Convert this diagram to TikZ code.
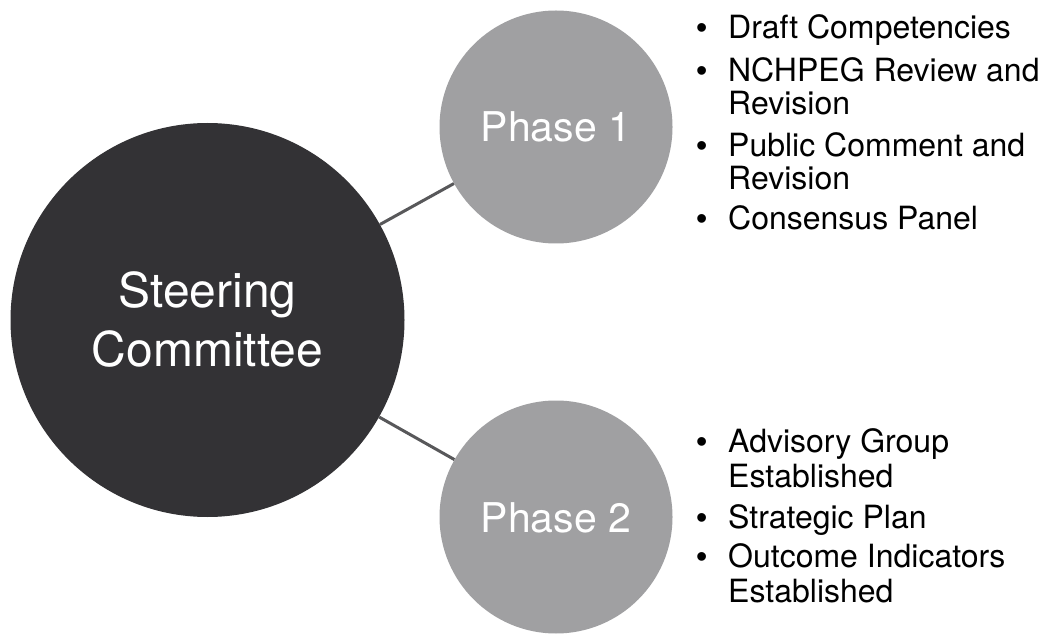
\documentclass[tikz,border=0pt]{standalone}
\usepackage{fontspec}
\setmainfont{TeX Gyre Heros}
\newfontfamily\bulfont{Liberation Sans}
\definecolor{darkc}{HTML}{333235}
\definecolor{phasec}{HTML}{A0A0A2}
\definecolor{linec}{HTML}{58585A}
\tikzset{
  bigcircle/.style={circle, fill=darkc, minimum size=394pt, inner sep=0pt, text=white, align=center, font=\fontsize{48}{59}\selectfont},
  phasecircle/.style={circle, fill=phasec, minimum size=233pt, inner sep=0pt},
  phasetext/.style={anchor=base, text=white, inner sep=0pt, font=\fontsize{41}{48}\selectfont},
  conn/.style={draw=linec, line width=3pt},
  item/.style={anchor=base west, inner sep=0pt, text=black, font=\fontsize{32}{34}\selectfont},
  bul/.style={anchor=base west, inner sep=0pt, text=black, font=\bulfont\fontsize{32}{34}\selectfont}
}
\begin{document}
\begin{tikzpicture}[x=1pt, y=-1pt]
\useasboundingbox (0,0) rectangle (1050,644);
\node[bigcircle] (sc) at (207.5,320) {Steering\\Committee};
\node[phasecircle] (p1) at (556,127) {};
\node[phasecircle] (p2) at (556,517) {};
\node[phasetext] (p1t) at (556,142) {Phase 1};
\node[phasetext] (p2t) at (556,532) {Phase 2};
\draw[conn] (sc) -- (p1);
\draw[conn] (sc) -- (p2);
% Phase 1 items
\node[bul] (b11) at (696,39) {\textbullet};
\node[item] (i11) at (728,39) {Draft Competencies};
\node[bul] (b12) at (696,82) {\textbullet};
\node[item] (i12) at (728,82) {NCHPEG Review and};
\node[item] (i12b) at (728,115) {Revision};
\node[bul] (b13) at (696,157) {\textbullet};
\node[item] (i13) at (728,157) {Public Comment and};
\node[item] (i13b) at (728,190) {Revision};
\node[bul] (b14) at (696,230) {\textbullet};
\node[item] (i14) at (728,230) {Consensus Panel};
% Phase 2 items
\node[bul] (b21) at (696,452) {\textbullet};
\node[item] (i21) at (728,452) {Advisory Group};
\node[item] (i21b) at (728,487) {Established};
\node[bul] (b22) at (696,528) {\textbullet};
\node[item] (i22) at (728,528) {Strategic Plan};
\node[bul] (b23) at (696,567) {\textbullet};
\node[item] (i23) at (728,567) {Outcome Indicators};
\node[item] (i23b) at (728,602) {Established};
\end{tikzpicture}
\end{document}
